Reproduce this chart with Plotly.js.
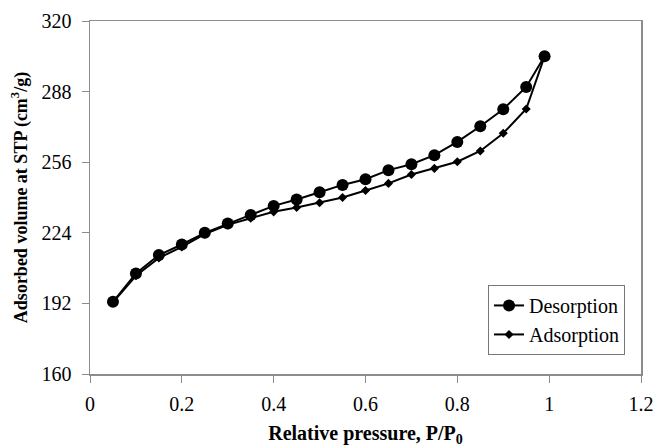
<!DOCTYPE html>
<html>
<head>
<meta charset="utf-8">
<script src="https://cdn.plot.ly/plotly-3.0.1.min.js"></script>
<style>html,body{margin:0;padding:0;background:#fff;}</style>
</head>
<body>
<div id="chart" style="width:656px;height:447px;"></div>
<script>
const pressure = [0.05, 0.10, 0.15, 0.20, 0.25, 0.30, 0.35, 0.40, 0.45, 0.50, 0.55, 0.60, 0.65, 0.70, 0.75, 0.80, 0.85, 0.90, 0.95, 0.99];
const desorption = [192.7, 205.6, 213.9, 218.7, 224.0, 228.2, 232.1, 236.2, 239.1, 242.4, 245.7, 248.3, 252.4, 255.1, 259.2, 265.2, 272.3, 280.0, 290.1, 304.0];
const adsorption = [192.5, 204.5, 212.6, 217.6, 223.4, 227.6, 230.6, 233.5, 235.5, 237.6, 240.0, 243.2, 246.4, 250.4, 253.2, 256.2, 261.1, 269.1, 280.1, 304.0];
const yTicks = [160, 192, 224, 256, 288, 320];
const xTicks = [0, 0.2, 0.4, 0.6, 0.8, 1, 1.2];

const serif = "Liberation Serif, Times New Roman, serif";
const traces = [
  {
    x: pressure, y: adsorption, name: "Adsorption", type: "scatter", mode: "lines+markers",
    line: {color: "#000", width: 2},
    marker: {symbol: "diamond", size: 7, color: "#000"},
    legendrank: 2
  },
  {
    x: pressure, y: desorption, name: "Desorption", type: "scatter", mode: "lines+markers",
    line: {color: "#000", width: 2},
    marker: {symbol: "circle", size: 12, color: "#000"},
    legendrank: 1
  }
];
const layout = {
  width: 656, height: 447,
  margin: {l: 90, r: 15, t: 21, b: 73},
  paper_bgcolor: "#fff", plot_bgcolor: "#fff",
  font: {family: serif, size: 20, color: "#000"},
  showlegend: true,
  legend: {
    x: 0.971, y: 0.054, xanchor: "right", yanchor: "bottom",
    bordercolor: "#777", borderwidth: 1, bgcolor: "#fff",
    font: {family: serif, size: 20, color: "#000"},
    tracegroupgap: 0, itemwidth: 30
  },
  xaxis: {
    range: [0, 1.2], tickvals: xTicks, ticktext: xTicks.map(String),
    showgrid: false, zeroline: false,
    showline: true, linecolor: "#8c8c8c", linewidth: 1.5, mirror: true,
    ticks: "outside", ticklen: 7, tickcolor: "#8c8c8c",
    ticklabelstandoff: 4,
    tickfont: {family: serif, size: 20, color: "#000"},
    title: {text: "Relative pressure, P/P<sub>0</sub>", font: {family: serif, size: 20, color: "#000", weight: "bold"}, standoff: 17}
  },
  yaxis: {
    range: [160, 320], tickvals: yTicks, ticktext: yTicks.map(String),
    showgrid: false, zeroline: false,
    showline: true, linecolor: "#8c8c8c", linewidth: 1.5, mirror: true,
    ticks: "outside", ticklen: 7, tickcolor: "#8c8c8c",
    ticklabelstandoff: 6,
    tickfont: {family: serif, size: 20, color: "#000"},
    title: {text: "Adsorbed volume at STP (cm<sup>3</sup>/g)", font: {family: serif, size: 18, color: "#000", weight: "bold"}, standoff: 9}
  }
};
Plotly.newPlot("chart", traces, layout, {displayModeBar: false, staticPlot: true});
</script>
</body>
</html>
